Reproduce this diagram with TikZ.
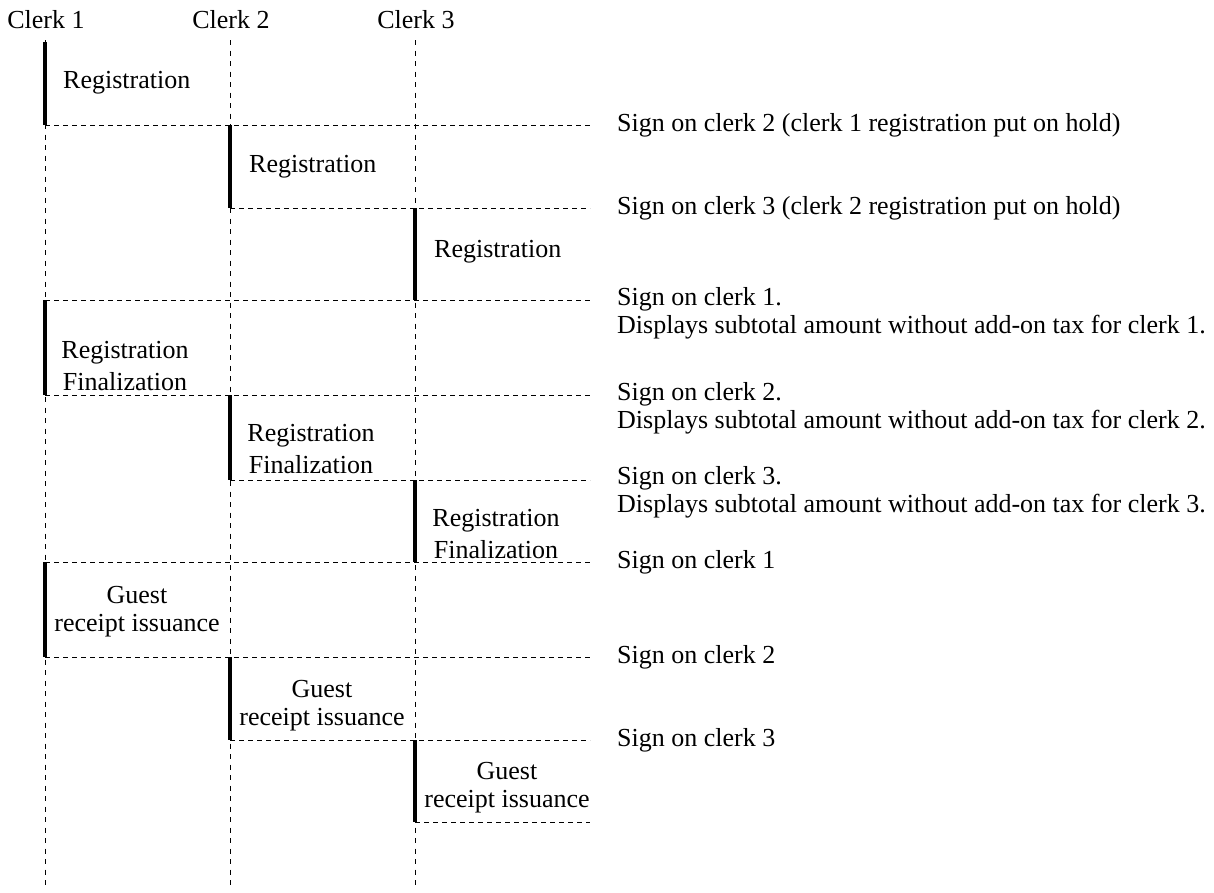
\documentclass[tikz,border=0pt]{standalone}
\usepackage{fontspec}
\setmainfont{Liberation Serif}
\usepackage{tikz}
\usetikzlibrary{calc}

\begin{document}
\begin{tikzpicture}[x=1pt, y=-1pt, line join=round,
	lifeline/.style={line width=1pt, dash pattern=on 5pt off 5.5pt},
	switchline/.style={line width=1pt, dash pattern=on 5pt off 4pt},
	busy/.style={line width=4.5pt},
	txt/.style={inner sep=0pt, font=\fontsize{26}{28}\selectfont},
	twoline/.style={txt, align=center, font=\fontsize{26}{32}\selectfont},
	note/.style={txt, align=left, anchor=base west}]
	
	\useasboundingbox (0,0) rectangle (1214,892);
	
	% --- 1. clerk heads and lifelines ---
	\node[txt, anchor=base] (c1) at (46,28) {Clerk 1};
	\node[txt, anchor=base] (c2) at (231,28) {Clerk 2};
	\node[txt, anchor=base] (c3) at (416,28) {Clerk 3};
	
	\coordinate (c1top) at (45,40);
	\coordinate (c2top) at (230,40);
	\coordinate (c3top) at (415,40);
	\coordinate (c1end) at (45,888);
	\coordinate (c2end) at (230,888);
	\coordinate (c3end) at (415,888);
	
	\draw[lifeline] (c1top) -- (c1end);
	\draw[lifeline] (c2top) -- (c2end);
	\draw[lifeline] (c3top) -- (c3end);
	
	% --- 2. switch lines (right end at x = 590) ---
	\draw[switchline] (45,125) -- (590,125);
	\draw[switchline] (230,208) -- (590,208);
	\draw[switchline] (45,300) -- (590,300);
	\draw[switchline] (45,395) -- (590,395);
	\draw[switchline] (230,480) -- (590,480);
	\draw[switchline] (45,562) -- (590,562);
	\draw[switchline] (45,657) -- (590,657);
	\draw[switchline] (230,740) -- (590,740);
	\draw[switchline] (415,822) -- (590,822);
	
	% --- 3. active periods of each clerk ---
	\draw[busy] (45,42) -- (45,125);
	\draw[busy] (230,125) -- (230,208);
	\draw[busy] (415,208) -- (415,300);
	\draw[busy] (45,300) -- (45,395);
	\draw[busy] (230,395) -- (230,480);
	\draw[busy] (415,480) -- (415,562);
	\draw[busy] (45,562) -- (45,657);
	\draw[busy] (230,657) -- (230,740);
	\draw[busy] (415,740) -- (415,822);
	
	% --- 4. texts beside the bars ---
	\node[txt, anchor=base west] (reg1) at (63,88) {Registration};
	\node[txt, anchor=base west] (reg2) at (249,172) {Registration};
	\node[txt, anchor=base west] (reg3) at (434,257) {Registration};
	
	\node[twoline, anchor=base] (fin1) at (125,390) {Registration\\Finalization};
	\node[twoline, anchor=base] (fin2) at (311,473) {Registration\\Finalization};
	\node[twoline, anchor=base] (fin3) at (496,558) {Registration\\Finalization};
	
	\node[txt, align=center, anchor=base] (gst1) at (137,631) {Guest\\receipt issuance};
	\node[txt, align=center, anchor=base] (gst2) at (322,725) {Guest\\receipt issuance};
	\node[txt, align=center, anchor=base] (gst3) at (507,807) {Guest\\receipt issuance};
	
	% --- 5. notes on the right ---
	\node[note] (n1) at (617,131) {Sign on clerk 2 (clerk 1 registration put on hold)};
	\node[note] (n2) at (617,214) {Sign on clerk 3 (clerk 2 registration put on hold)};
	\node[note] (n3) at (617,333) {Sign on clerk 1.\\Displays subtotal amount without add-on tax for clerk 1.};
	\node[note] (n4) at (617,428) {Sign on clerk 2.\\Displays subtotal amount without add-on tax for clerk 2.};
	\node[note] (n5) at (617,512) {Sign on clerk 3.\\Displays subtotal amount without add-on tax for clerk 3.};
	\node[note] (n6) at (617,568) {Sign on clerk 1};
	\node[note] (n7) at (617,663) {Sign on clerk 2};
	\node[note] (n8) at (617,746) {Sign on clerk 3};
	
\end{tikzpicture}
\end{document}
